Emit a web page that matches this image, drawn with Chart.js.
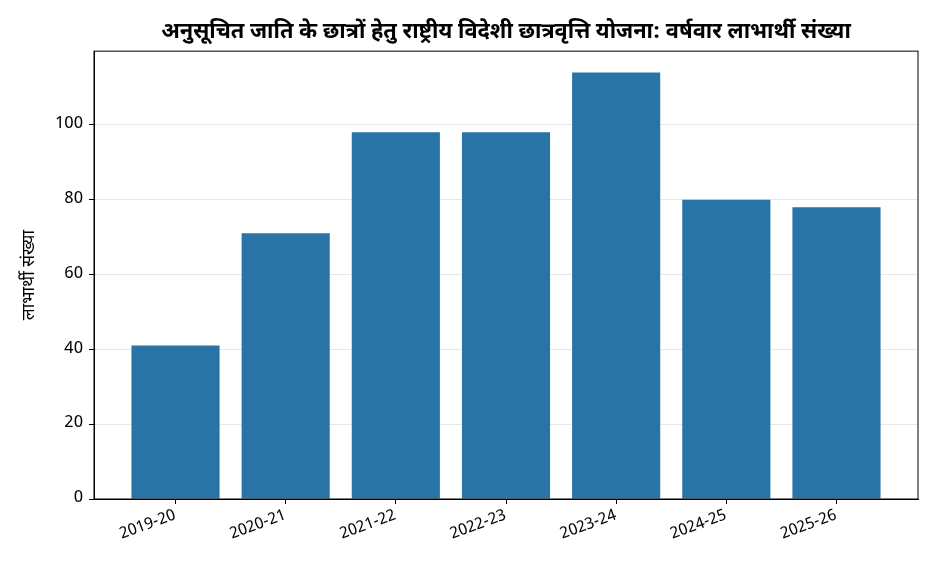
<!DOCTYPE html>
<html lang="hi">
<head>
<meta charset="utf-8">
<script src="https://cdn.jsdelivr.net/npm/chart.js@4.4.1/dist/chart.umd.min.js"></script>
<style>
  html, body { margin: 0; padding: 0; background: #fff; }
  #wrap { width: 936px; height: 572px; }
</style>
</head>
<body>
<div id="wrap"><canvas id="barChart" width="936" height="572"></canvas></div>
<script>
// वर्षवार लाभार्थी संख्या
const years = ['2019-20', '2020-21', '2021-22', '2022-23', '2023-24', '2024-25', '2025-26'];
const beneficiaries = [41, 71, 98, 98, 114, 80, 78];
const yTicks = [0, 20, 40, 60, 80, 100];

const chartTitle = 'अनुसूचित जाति के छात्रों हेतु राष्ट्रीय विदेशी छात्रवृत्ति योजना: वर्षवार लाभार्थी संख्या';
const yTitle = 'लाभार्थी संख्या';

const FONT = "'Noto Sans Devanagari', 'Noto Sans', sans-serif";

// frame around the plot area (matplotlib style spines)
const framePlugin = {
    id: 'frame',
    afterDraw(chart) {
        const { ctx, chartArea: a } = chart;
        ctx.save();
        ctx.strokeStyle = '#000';
        ctx.lineWidth = 1;
        ctx.strokeRect(a.left, a.top, a.right - a.left, a.bottom - a.top);
        ctx.restore();
    }
};

const ctx = document.getElementById('barChart').getContext('2d');
new Chart(ctx, {
    type: 'bar',
    data: {
        datasets: [{
            label: yTitle,
            data: beneficiaries.map((v, i) => ({ x: i, y: v })),
            backgroundColor: '#2874A6',
            borderWidth: 0,
            barPercentage: 0.8,
            categoryPercentage: 1.0
        }]
    },
    options: {
        responsive: false,
        animation: false,
        devicePixelRatio: 1,
        layout: { padding: { left: 0, right: 18, top: 0, bottom: 0 } },
        plugins: {
            legend: { display: false },
            tooltip: { enabled: false },
            title: {
                display: true,
                fullSize: false,
                text: chartTitle,
                color: '#000',
                font: { family: FONT, size: 21.8, weight: 'bold' },
                padding: { top: 21, bottom: 4 }
            }
        },
        scales: {
            x: {
                type: 'linear',
                offset: false,
                min: -0.74,
                max: 6.74,
                afterFit: (s) => { s.height = 73; },
                afterBuildTicks: (s) => { s.ticks = years.map((_, i) => ({ value: i })); },
                ticks: {
                    autoSkip: false,
                    minRotation: 20,
                    maxRotation: 20,
                    color: '#000',
                    font: { family: FONT, size: 16 },
                    callback: (v) => years[v] ?? ''
                },
                grid: { offset: false, drawOnChartArea: false, drawTicks: true, tickLength: 5, color: '#000' },
                border: { display: true, color: '#000' }
            },
            y: {
                min: 0,
                max: 119.7,
                z: 1,
                afterFit: (s) => { s.width = 94; },
                afterBuildTicks: (s) => { s.ticks = yTicks.map(v => ({ value: v })); },
                ticks: {
                    color: '#000',
                    font: { family: FONT, size: 17 },
                    padding: 6
                },
                grid: { color: 'rgba(176,176,176,0.3)', tickColor: '#000', tickLength: 5, lineWidth: 1 },
                border: { display: true, color: '#000' },
                title: {
                    display: true,
                    text: yTitle,
                    color: '#000',
                    font: { family: FONT, size: 17.5 },
                    padding: { top: 20, bottom: 4 }
                }
            }
        }
    },
    plugins: [framePlugin]
});
</script>
</body>
</html>
